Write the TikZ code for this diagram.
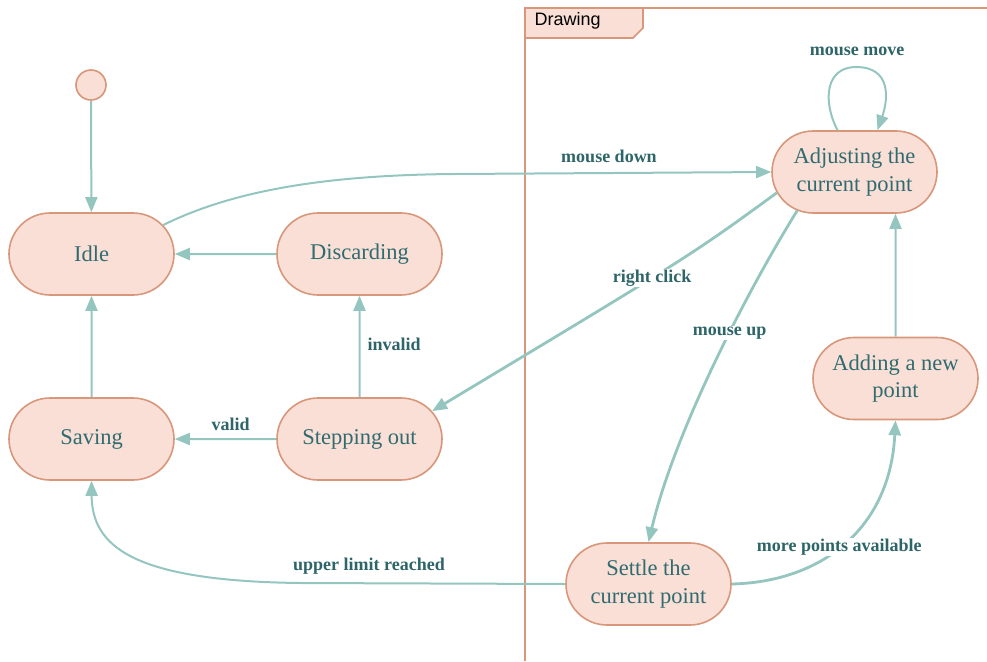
\documentclass[tikz,border=0pt]{standalone}
\usepackage{fontspec}
\setmainfont{Liberation Serif}
\newfontfamily\framefont{Liberation Sans}
\usetikzlibrary{arrows.meta,shapes.misc}

\definecolor{stfill}{HTML}{F9DFD5}
\definecolor{stline}{HTML}{D8967A}
\definecolor{sttext}{HTML}{2F6B70}
\definecolor{edgecol}{HTML}{94C6BF}
\definecolor{lblcol}{HTML}{2E6569}

\tikzset{
  state/.style={rounded rectangle, draw=stline, fill=stfill, line width=1.6pt,
    minimum width=165pt, minimum height=82pt, inner sep=0pt,
    text=sttext, font=\fontsize{22.5}{27.5}\selectfont, align=center},
  startdot/.style={circle, draw=stline, fill=stfill, line width=1.6pt,
    minimum size=30pt, inner sep=0pt},
  edge/.style={draw=edgecol, line width=2pt,
    -{Triangle[length=15pt,width=12pt]}},
  thick edge/.style={edge, line width=2.8pt},
  lbl/.style={font=\bfseries\fontsize{18}{21}\selectfont, text=lblcol,
    fill=white, inner sep=1pt},
}

\begin{document}
\begin{tikzpicture}[x=1pt, y=-1pt]
  \useasboundingbox (0,0) rectangle (987,661);

  % composite state frame
  \draw[stline, line width=1.6pt] (525,661) -- (525,8) -- (987,8);
  \draw[stline, fill=stfill, line width=1.6pt]
    (525,8) -- (643,8) -- (643,28) -- (633,38) -- (525,38) -- cycle;
  \node[anchor=west, font=\framefont\fontsize{18}{21}\selectfont] (frametitle)
    at (531,21) {Drawing};

  % states
  \node[startdot] (start) at (91,85) {};
  \node[state] (idle) at (91.5,254) {Idle};
  \node[state] (discard) at (359.5,254) {Discarding};
  \node[state] (saving) at (91.5,439) {Saving};
  \node[state] (stepout) at (359.5,439) {Stepping out};
  \node[state] (adjust) at (854.5,172) {Adjusting the\\current point};
  \node[state] (adding) at (895.5,378.5) {Adding a new\\point};
  \node[state] (settle) at (648.5,584) {Settle the\\current point};

  % helper points along the curved transitions
  \coordinate (md) at (455,174);
  \coordinate (ul) at (300,583);
  \coordinate (loopA) at ([xshift=-17pt]adjust.north);
  \coordinate (loopB) at ([xshift=23pt]adjust.north);

  % transitions
  \draw[edge] (start) -- (idle);
  \draw[edge] (discard) -- (idle);
  \draw[edge] (saving) -- (idle);
  \draw[edge] (stepout) -- node[lbl, above=6pt, pos=0.45] {valid} (saving);
  \draw[edge] (stepout) -- node[lbl, right=6pt, pos=0.52] {invalid} (discard);

  \draw[edge] (idle.22) .. controls (230,192) and (320,175) .. (md)
    -- (adjust.west);
  \node[lbl] (lmd) at (609,156) {mouse down};

  \draw[edge] (loopA) .. controls (822,100) and (826,67) .. (856,67)
    .. controls (892,67) and (888,100) .. (loopB);
  \node[lbl] (lmm) at (857,51) {mouse move};

  \draw[thick edge] (adjust.195) .. controls (690,256) .. (stepout.21)
    node[lbl, pos=0.56] {right click};

  \draw[thick edge] (adjust.214) .. controls (748,290) and (675,430) .. (settle.north)
    node[lbl, pos=0.41] {mouse up};

  \draw[edge] (adding) -- (adding |- adjust.south);

  \draw[thick edge] (settle.east) .. controls (820,582) and (890,530) .. (adding.south)
    node[lbl, pos=0.47] {more points available};

  \draw[edge] (settle.west) -- (ul) .. controls (130,581) and (92,545) .. (saving.south);
  \node[lbl] (lul) at (369,566) {upper limit reached};
\end{tikzpicture}
\end{document}
